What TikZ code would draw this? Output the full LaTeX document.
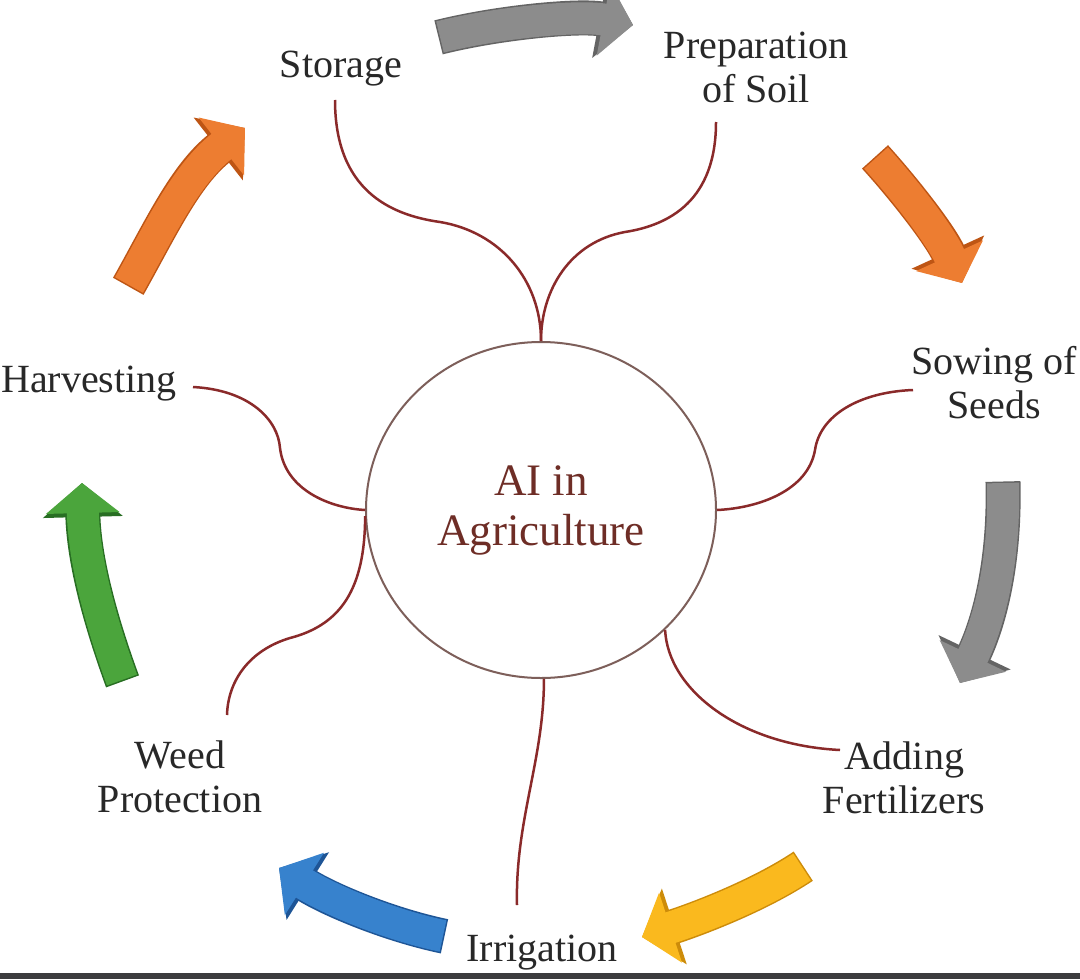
\documentclass[tikz,border=0pt]{standalone}
\usepackage{fontspec}
\setmainfont{Liberation Serif}
\usetikzlibrary{arrows.meta,shapes.geometric}
\definecolor{linkred}{RGB}{138,42,42}
\definecolor{ringcol}{RGB}{125,95,90}
\definecolor{hubtext}{RGB}{110,45,38}
\definecolor{labeltext}{RGB}{40,40,40}
\definecolor{ogfill}{RGB}{237,125,49}
\definecolor{ogedge}{RGB}{190,85,20}
\definecolor{gyfill}{RGB}{140,140,140}
\definecolor{gyedge}{RGB}{100,100,100}
\definecolor{ylfill}{RGB}{250,185,30}
\definecolor{yledge}{RGB}{205,140,10}
\definecolor{blfill}{RGB}{55,130,205}
\definecolor{bledge}{RGB}{30,85,150}
\definecolor{grfill}{RGB}{75,165,60}
\definecolor{gredge}{RGB}{40,110,35}
\definecolor{stripcol}{RGB}{60,60,62}
\newcommand\blockarrow[3]{%
  \draw[arrowedge,#2] #1;
  \draw[arrowbody,#3] #1;}
\begin{document}
\begin{tikzpicture}[x=0.5pt,y=-0.5pt,
  lbl/.style={font=\fontsize{20}{22}\selectfont, text=labeltext, align=center, inner sep=0pt},
  hub/.style={ellipse, draw=ringcol, line width=1pt, minimum width=175pt, minimum height=168pt,
              inner sep=0pt, align=center, text=hubtext, font=\fontsize{22.5}{25}\selectfont},
  link/.style={draw=linkred, line width=1.25pt},
  arrowedge/.style={line width=17.5pt, shorten <=-0.75pt, -{Triangle[length=17pt,width=39pt]}},
  arrowbody/.style={line width=16pt, -{Triangle[length=15pt,width=36pt]}}]
\fill[white] (0,0) rectangle (1080,979);
\useasboundingbox (0,0) rectangle (1080,979);
\fill[stripcol] (0,973) rectangle (1080,979);

% hub
\node[hub] (c) at (541,510) {AI in\\Agriculture};

% labels
\node[lbl] (storage) at (341,69) {Storage};
\node[lbl] (prep) at (756,67.5) {Preparation\\of Soil};
\node[lbl] (sow) at (994,383) {Sowing of\\Seeds};
\node[lbl] (fert) at (904,778) {Adding\\Fertilizers};
\node[lbl] (irr) at (542,953) {Irrigation};
\node[lbl] (weed) at (180,777) {Weed\\Protection};
\node[lbl] (harv) at (89,384) {Harvesting};

% connectors
\draw[link] ([shift={(-6,31)}]storage.center) .. controls (335,190) and (390,215) .. (440,222)
            .. controls (500,232) and (541,280) .. (c.north);
\draw[link] ([shift={(-40,54.5)}]prep.center) .. controls (716,200) and (670,225) .. (625,232)
            .. controls (570,242) and (541,290) .. (c.north);
\draw[link] ([shift={(-81,7)}]sow.center) .. controls (860,392) and (820,415) .. (815,450)
            .. controls (808,490) and (760,508) .. (c.east);
\draw[link] (c.-44.5) .. controls (668,690) and (740,745) .. ([shift={(-64,-28)}]fert.center);
\draw[link] (c.-89) .. controls (544,760) and (515,820) .. ([shift={(-25,-48)}]irr.center);
\draw[link] (c.182) .. controls (365,590) and (340,625) .. (290,638)
            .. controls (250,650) and (228,680) .. ([shift={(47,-62)}]weed.center);
\draw[link] ([shift={(104,3)}]harv.center) .. controls (250,390) and (278,420) .. (280,448)
            .. controls (285,490) and (330,508) .. (c.west);

% cycle arrows
\blockarrow{(440,37) .. controls (500,22) and (580,15) .. (633,25)}{gyedge}{gyfill}
\blockarrow{(876,158) .. controls (905,190) and (940,235) .. (962,283)}{ogedge}{ogfill}
\blockarrow{(1003,483) .. controls (1005,560) and (990,620) .. (960,683)}{gyedge}{gyfill}
\blockarrow{(802,867) .. controls (760,895) and (700,918) .. (642,937)}{yledge}{ylfill}
\blockarrow{(443,936) .. controls (390,925) and (330,900) .. (279,868)}{bledge}{blfill}
\blockarrow{(122,680) .. controls (100,620) and (84,560) .. (82,483)}{gredge}{grfill}
\blockarrow{(129,285) .. controls (160,230) and (185,175) .. (245,128)}{ogedge}{ogfill}
\end{tikzpicture}
\end{document}
